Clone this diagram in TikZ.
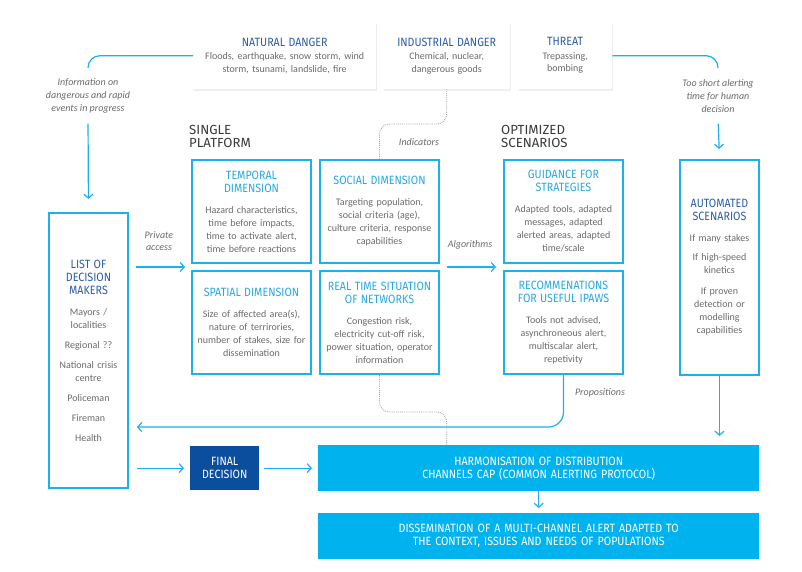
\documentclass[tikz,border=0pt]{standalone}
\usepackage{fontspec}
\setmainfont{Carlito}
\newfontfamily\headfont[FakeStretch=0.89]{Fira Sans}
\newfontfamily\titlefont{Fira Sans}
\usepackage{xcolor}
\usepackage{tikz}
\usetikzlibrary{positioning, arrows.meta, shadows, calc}

\definecolor{alertblue}{HTML}{1AB1EC}
\definecolor{headblue}{HTML}{27A9E1}
\definecolor{deepblue}{HTML}{2C5DA9}
\definecolor{finalblue}{HTML}{0C4E9E}
\definecolor{capblue}{HTML}{00B3EE}
\definecolor{bodygray}{HTML}{6B6B6B}
\definecolor{titlegray}{HTML}{3A3A3A}

\newcommand{\boxhead}[1]{{\headfont\fontsize{12}{13}\selectfont\color{headblue}#1}}
\newcommand{\deephead}[1]{{\headfont\fontsize{12}{13}\selectfont\color{deepblue}#1}}

\begin{document}
\begin{tikzpicture}[x=1pt, y=-1pt, font=\fontsize{10}{13}\selectfont, text=bodygray]
			\tikzstyle{danger} = [rectangle, fill=white, drop shadow={shadow xshift=1pt, shadow yshift=-2pt, opacity=0.13}, minimum height=67pt, inner xsep=0pt, align=center, anchor=north west, font=\fontsize{10}{12.5}\selectfont]
			
			\tikzstyle{dimension} = [rectangle, draw=alertblue, line width=2pt, minimum width=119pt, minimum height=103pt, text width=117pt, inner xsep=1pt, align=center]
			
			\tikzstyle{column} = [rectangle, draw=alertblue, line width=2pt, minimum width=79pt, text width=77pt, inner xsep=1pt, align=center, anchor=north west]
			
			\tikzstyle{capbox} = [rectangle, fill=capblue, minimum width=441pt, minimum height=46pt, text width=430pt, align=center, anchor=north west, text=white, font=\headfont\fontsize{12}{13}\selectfont]
			
			\tikzstyle{sectiontitle} = [align=left, inner sep=0pt, anchor=north west, text=titlegray, font=\titlefont\fontsize{13.2}{13}\selectfont]
			
			\tikzstyle{note} = [align=center, font=\fontsize{10}{12.7}\selectfont\itshape]
			
			\tikzstyle{link} = [draw=alertblue, line width=1.2pt]
			\tikzstyle{arrow} = [link, -{Straight Barb[length=4pt, width=9pt]}]
			\tikzstyle{dotline} = [draw=gray!80, line width=0.8pt, dash pattern=on 0.8pt off 1.1pt]
			
			\fill[white] (0,0) rectangle (802,572);
			\useasboundingbox (0,0) rectangle (802,572);
			
			% Dangers on top
			\node (natural) [danger, text width=183pt] at (193,22) {\deephead{NATURAL DANGER}\\[1pt] Floods, earthquake, snow storm, wind\\ storm, tsunami, landslide, fire};
			\node (industrial) [danger, text width=127pt] at (383,22) {\deephead{INDUSTRIAL DANGER}\\[1pt] Chemical, nuclear,\\ dangerous goods};
			\node (threat) [danger, text width=94pt] at (518,22) {\deephead{THREAT}\\[1pt] Trepassing,\\ bombing};
			
			% Single platform
			\node (platformtitle) [sectiontitle] at (189,125) {SINGLE\\PLATFORM};
			\node (temporal) [dimension, anchor=north west] at (191,159) {\boxhead{TEMPORAL\\DIMENSION}\\[8pt] Hazard characteristics,\\ time before impacts,\\ time to activate alert,\\ time before reactions};
			\node (social) [dimension, right=7pt of temporal] {\boxhead{SOCIAL DIMENSION}\\[8pt] Targeting population,\\ social criteria (age),\\ culture criteria, response\\ capabilities};
			\node (spatial) [dimension, below=6pt of temporal] {\boxhead{SPATIAL DIMENSION}\\[8pt] Size of affected area(s),\\ nature of terrirories,\\ number of stakes, size for\\ dissemination};
			\node (realtime) [dimension, below=6pt of social] {\boxhead{REAL TIME SITUATION\\OF NETWORKS}\\[8pt] Congestion risk,\\ electricity cut-off risk,\\ power situation, operator\\ information};
			
			% Optimized scenarios
			\node (scenariotitle) [sectiontitle] at (501,125) {OPTIMIZED\\SCENARIOS};
			\node (guidance) [dimension, anchor=north west] at (503,159) {\boxhead{GUIDANCE FOR\\STRATEGIES}\\[8pt] Adapted tools, adapted\\ messages, adapted\\ alerted areas, adapted\\ time/scale};
			\node (recommend) [dimension, below=6pt of guidance] {\boxhead{RECOMMENATIONS\\FOR USEFUL IPAWS}\\[8pt] Tools not advised,\\ asynchroneous alert,\\ multiscalar alert,\\ repetivity};
			\node (auto) [column, minimum height=215pt] at (679,159) {\deephead{AUTOMATED\\SCENARIOS}\\[8pt] If many stakes\\[6pt] If high-speed\\ kinetics\\[8pt] If proven\\ detection or\\ modelling\\ capabilities};
			
			% Decision makers
			\node (list) [column, minimum height=275pt] at (48,212) {\deephead{LIST OF\\DECISION\\MAKERS}\\[8pt] Mayors /\\ localities\\[7pt] Regional ??\\[7pt] National crisis\\ centre\\[7pt] Policeman\\[7pt] Fireman\\[7pt] Health};
			
			% Bottom row
			\node (final) [rectangle, fill=finalblue, minimum width=69pt, minimum height=44pt, align=center, anchor=north west, text=white, font=\headfont\fontsize{12}{13}\selectfont] at (190,446) {FINAL\\DECISION};
			\node (harm) [capbox] at (318,445) {HARMONISATION OF DISTRIBUTION\\CHANNELS CAP (COMMON ALERTING PROTOCOL)};
			\node (dissem) [capbox] at (318,513) {DISSEMINATION OF A MULTI-CHANNEL ALERT ADAPTED TO\\THE CONTEXT, ISSUES AND NEEDS OF POPULATIONS};
			
			% Notes
			\node (infonote) [note] at (88,96) {Information on\\ dangerous and rapid\\ events in progress};
			\node (toonote) [note] at (718,96) {Too short alerting\\ time for human\\ decision};
			\node (privatenote) [note] at (159,241) {Private\\ access};
			\node (algonote) [note] at (470,245) {Algorithms};
			\node (indnote) [note] at (419,142) {Indicators};
			\node (propnote) [note] at (600,393) {Propositions};
			
			% Helper coordinates
			\coordinate (infotop) at (88,67);
			\coordinate (tootop) at (718,67);
			\coordinate (platformgap) at ($(temporal.south)!0.5!(spatial.north)$);
			\coordinate (propline) at (0,427);
			\coordinate (indbend) at (412,124);
			\coordinate (netbend) at (412,412);
			
			% Arrows
			\draw [link, rounded corners=12pt] (infotop) |- (natural.west);
			\draw [link, rounded corners=12pt] (threat.east) -| (tootop);
			\draw [arrow, shorten <=7pt, shorten >=13pt] (infonote.south) -- (list.north);
			\draw [arrow, shorten <=8pt, shorten >=10pt] (toonote.south) -- (auto.north);
			\draw [arrow, shorten <=7pt, shorten >=6pt] (list.east |- platformgap) -- (temporal.west |- platformgap);
			\draw [arrow, shorten <=7pt, shorten >=7pt] (social.east |- platformgap) -- (guidance.west |- platformgap);
			\draw [arrow, rounded corners=15pt, shorten >=8pt] (recommend.south) |- (list.east |- propline);
			\draw [arrow, shorten >=9pt] (auto.south) -- (auto.south |- harm.north);
			\draw [arrow, shorten <=8pt, shorten >=6pt] (list.east |- final.west) -- (final.west);
			\draw [arrow, shorten <=5pt, shorten >=6pt] (final.east) -- (harm.west);
			\draw [arrow, shorten >=5pt] (harm.south) -- (dissem.north);
			
			% Dotted links
			\draw [dotline, rounded corners=10pt] (industrial.south) |- (indbend) -| (social.north);
			\draw [dotline, rounded corners=10pt] (realtime.south) |- (netbend) -| (industrial.south |- harm.north);
		\end{tikzpicture}
\end{document}
